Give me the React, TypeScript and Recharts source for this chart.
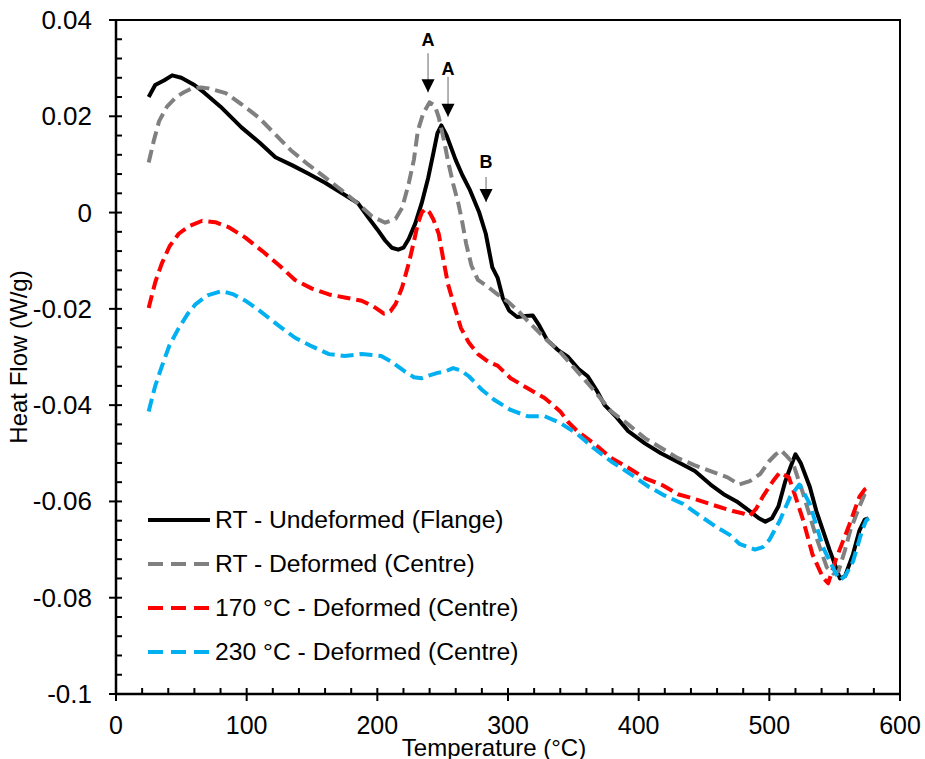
import React from 'react';
import {
  LineChart,
  Line,
  XAxis,
  YAxis,
  Legend,
  ReferenceDot,
  ReferenceLine,
} from 'recharts';

// [temperature °C, heat flow W/g]
const rtUndeformed: [number, number][] = [
  [25, 0.024], [30, 0.0265], [37, 0.0275], [43, 0.0285], [50, 0.028], [60, 0.0265], [68, 0.0248],
  [80, 0.022], [96, 0.0177], [110, 0.0145], [122, 0.0115], [135, 0.0098], [147, 0.0081], [160, 0.0062],
  [173, 0.004], [185, 0.002], [193, -0.001], [200, -0.0035], [206, -0.0058], [211, -0.0073],
  [216, -0.0077], [220, -0.0073], [224, -0.0055], [229, -0.0023], [234, 0.002], [239, 0.0073],
  [243, 0.0125], [246, 0.0165], [249, 0.0181], [253, 0.016], [260, 0.0109], [265, 0.0078],
  [271, 0.0046], [278, 0.0], [283, -0.0044], [288, -0.0114], [292, -0.0135], [296, -0.0177],
  [301, -0.0204], [307, -0.0217], [313, -0.0215], [319, -0.0214], [324, -0.0235], [330, -0.0265],
  [338, -0.0285], [346, -0.03], [354, -0.0325], [361, -0.034], [368, -0.037], [374, -0.04],
  [383, -0.0425], [392, -0.0454], [405, -0.048], [417, -0.05], [430, -0.0518], [443, -0.0537],
  [455, -0.0565], [465, -0.0585], [475, -0.06], [485, -0.062], [492, -0.0635], [497, -0.0642],
  [502, -0.0635], [507, -0.061], [512, -0.056], [516, -0.053], [520, -0.0502], [524, -0.052],
  [531, -0.057], [536, -0.062], [541, -0.066], [546, -0.07], [551, -0.0737], [554, -0.076],
  [558, -0.0755], [564, -0.071], [569, -0.066], [573, -0.0638], [576, -0.0635],
];

const rtDeformed: [number, number][] = [
  [25, 0.0104], [29, 0.015], [33, 0.019], [39, 0.022], [46, 0.024], [52, 0.025], [58, 0.0258],
  [65, 0.026], [71, 0.0258], [84, 0.0248], [96, 0.0225], [109, 0.0198], [121, 0.0165], [134, 0.0129],
  [147, 0.01], [160, 0.0073], [172, 0.0048], [185, 0.0019], [196, -0.0008], [206, -0.0021],
  [214, -0.0013], [219, 0.001], [224, 0.006], [228, 0.011], [231, 0.017], [235, 0.0205],
  [240, 0.0229], [244, 0.0222], [247, 0.0198], [251, 0.015], [254, 0.0108], [258, 0.006],
  [262, 0.0019], [265, -0.002], [268, -0.0065], [272, -0.011], [277, -0.014], [285, -0.0155],
  [292, -0.017], [300, -0.0185], [308, -0.0205], [315, -0.0225], [328, -0.026], [340, -0.029],
  [353, -0.033], [366, -0.037], [379, -0.0413], [392, -0.044], [405, -0.0469], [418, -0.049],
  [430, -0.051], [443, -0.0525], [455, -0.0537], [468, -0.055], [477, -0.0565], [485, -0.0558],
  [493, -0.0543], [500, -0.0516], [505, -0.0502], [509, -0.0494], [513, -0.0505], [518, -0.052],
  [526, -0.0585], [536, -0.0675], [544, -0.0737], [549, -0.075], [553, -0.0745], [558, -0.07],
  [562, -0.066], [569, -0.061], [573, -0.0585], [576, -0.0575],
];

const deformed170: [number, number][] = [
  [25, -0.0198], [30, -0.0145], [35, -0.0106], [41, -0.007], [48, -0.0044], [56, -0.0028],
  [66, -0.0017], [76, -0.002], [86, -0.003], [99, -0.0052], [112, -0.008], [125, -0.011],
  [137, -0.014], [150, -0.0158], [163, -0.017], [176, -0.0177], [188, -0.0183], [197, -0.0195],
  [205, -0.021], [210, -0.0205], [214, -0.019], [219, -0.0155], [224, -0.0106], [228, -0.006],
  [231, -0.0023], [234, 0.0], [237, 0.0008], [240, 0.0], [243, -0.0015], [247, -0.0044],
  [250, -0.009], [254, -0.0148], [259, -0.0195], [264, -0.024], [270, -0.027], [277, -0.0294],
  [285, -0.031], [292, -0.0318], [302, -0.0344], [315, -0.0365], [328, -0.0385], [340, -0.0413],
  [346, -0.0435], [353, -0.0454], [366, -0.048], [379, -0.051], [392, -0.053], [405, -0.0552],
  [418, -0.0566], [430, -0.0585], [443, -0.0595], [460, -0.061], [472, -0.062], [480, -0.0625],
  [485, -0.063], [490, -0.0615], [495, -0.059], [503, -0.0557], [508, -0.054], [515, -0.055],
  [520, -0.059], [526, -0.064], [533, -0.071], [541, -0.0758], [545, -0.077], [551, -0.072],
  [556, -0.0685], [561, -0.065], [569, -0.059], [573, -0.0575], [576, -0.057],
];

const deformed230: [number, number][] = [
  [25, -0.0413], [30, -0.036], [35, -0.032], [41, -0.0275], [48, -0.024], [55, -0.021],
  [61, -0.019], [70, -0.0172], [81, -0.0163], [90, -0.017], [99, -0.0183], [108, -0.02],
  [117, -0.0219], [127, -0.024], [137, -0.026], [150, -0.0278], [163, -0.0294], [175, -0.0298],
  [188, -0.0294], [196, -0.0296], [203, -0.0298], [211, -0.031], [221, -0.033], [228, -0.0342],
  [234, -0.0344], [240, -0.0338], [246, -0.0333], [252, -0.033], [258, -0.0323], [264, -0.0328],
  [270, -0.034], [280, -0.0368], [290, -0.039], [302, -0.041], [315, -0.0423], [328, -0.0423],
  [340, -0.0437], [353, -0.046], [366, -0.049], [379, -0.0517], [392, -0.054], [408, -0.057],
  [420, -0.0588], [434, -0.0605], [447, -0.063], [460, -0.0654], [470, -0.067], [477, -0.0688],
  [489, -0.07], [495, -0.0695], [500, -0.068], [504, -0.066], [508, -0.064], [516, -0.059],
  [523, -0.0565], [531, -0.0605], [541, -0.0695], [551, -0.075], [554, -0.0763], [558, -0.0755],
  [564, -0.0725], [571, -0.066], [574, -0.064], [576, -0.0635],
];

const seriesNames = [
  'RT - Undeformed (Flange)',
  'RT - Deformed (Centre)',
  '170 °C - Deformed (Centre)',
  '230 °C - Deformed (Centre)',
];

const xTicks = [0, 100, 200, 300, 400, 500, 600];
const yTicks = [-0.1, -0.08, -0.06, -0.04, -0.02, 0, 0.02, 0.04];
// minor ticks: every 20 °C and every 0.004 W/g
const xMinorTicks = Array.from({ length: 31 }, (_, i) => i * 20);
const yMinorTicks = Array.from({ length: 36 }, (_, i) => Math.round((-0.1 + i * 0.004) * 1000) / 1000);

// peak markers
const markerLabels = ['A', 'A', 'B'];
const markerT = [238.8, 254.1, 283.2];
const markerLabelY = [0.0358, 0.0298, 0.0105];
const markerShaftTop = [0.0331, 0.0282, 0.0074];
const markerTip = [0.025, 0.0199, 0.0022];

const FONT = '"Liberation Sans", Arial, Helvetica, sans-serif';
const W = 925;
const H = 759;
const MARGIN = { top: 20, right: 25, bottom: 5, left: 16 };
const Y_AXIS_W = 100;
const X_AXIS_H = 60;
const X_DOMAIN: [number, number] = [0, 600];
const Y_DOMAIN: [number, number] = [-0.1, 0.04];

// plot box implied by the margins and axis sizes above (same as Recharts lays it out)
const PLOT_L = MARGIN.left + Y_AXIS_W;
const PLOT_R = W - MARGIN.right;
const PLOT_T = MARGIN.top;
const PLOT_B = H - MARGIN.bottom - X_AXIS_H;
const sx = (t: number) => PLOT_L + ((t - X_DOMAIN[0]) / (X_DOMAIN[1] - X_DOMAIN[0])) * (PLOT_R - PLOT_L);
const sy = (v: number) => PLOT_B - ((v - Y_DOMAIN[0]) / (Y_DOMAIN[1] - Y_DOMAIN[0])) * (PLOT_B - PLOT_T);

const toRows = (pts: [number, number][]) => pts.map(([t, hf]) => ({ t, hf }));

const styles = [
  { color: '#000000', dash: undefined as string | undefined, legendDash: undefined as string | undefined },
  { color: '#808080', dash: '13 6', legendDash: '15 8' },
  { color: '#FF0000', dash: '13 6', legendDash: '15 8' },
  { color: '#00B0F0', dash: '13 6', legendDash: '15 8' },
];

const seriesData = [rtUndeformed, rtDeformed, deformed170, deformed230].map(toRows);

const isMajor = (list: number[], v: number) => list.some((m) => Math.abs(m - v) < 1e-9);

function XLabelTick(props: any) {
  const { x, y, payload } = props;
  return (
    <text x={x} y={y + 31} textAnchor="middle" dominantBaseline="central" fontSize={25} fontFamily={FONT} fill="#000">
      {payload.value}
    </text>
  );
}

function YLabelTick(props: any) {
  const { x, y, payload } = props;
  return (
    <text x={x - 24} y={y} textAnchor="end" dominantBaseline="central" fontSize={26} fontFamily={FONT} fill="#000">
      {String(payload.value)}
    </text>
  );
}

function LegendBox() {
  return (
    <div style={{ fontFamily: FONT, fontSize: 24.7, color: '#000' }}>
      {seriesNames.map((name, i) => (
        <div key={name} style={{ display: 'flex', alignItems: 'center', height: 44 }}>
          <svg width={62} height={8} style={{ marginRight: 5 }}>
            <line
              x1={0}
              y1={4}
              x2={62}
              y2={4}
              stroke={styles[i].color}
              strokeWidth={4}
              strokeDasharray={styles[i].legendDash}
            />
          </svg>
          <span style={{ whiteSpace: 'nowrap' }}>{name}</span>
        </div>
      ))}
    </div>
  );
}

// tick marks + top/right frame, laid over the chart
function AxisMarks() {
  return (
    <svg
      width={W}
      height={H}
      style={{ position: 'absolute', left: 0, top: 0, pointerEvents: 'none', zIndex: 5 }}
    >
      <g stroke="#000" strokeWidth={2} fill="none">
        <path d={`M${PLOT_L},${PLOT_T}H${PLOT_R}V${PLOT_B}`} />
        {xMinorTicks.map((t) => {
          const x = sx(t);
          return <path key={`x${t}`} d={`M${x},${PLOT_B - 6}V${isMajor(xTicks, t) ? PLOT_B + 7 : PLOT_B}`} />;
        })}
        {yMinorTicks.map((v) => {
          const y = sy(v);
          return <path key={`y${v}`} d={`M${isMajor(yTicks, v) ? PLOT_L - 7 : PLOT_L},${y}H${PLOT_L + 6}`} />;
        })}
      </g>
    </svg>
  );
}

export default function App() {
  return (
    <div style={{ position: 'absolute', left: 0, top: 0, width: W, height: H, background: '#fff', fontFamily: FONT }}>
      <LineChart width={W} height={H} margin={MARGIN}>
        <XAxis
          type="number"
          dataKey="t"
          domain={X_DOMAIN}
          ticks={xTicks}
          interval={0}
          height={X_AXIS_H}
          tickSize={0}
          tickMargin={0}
          axisLine={{ stroke: '#000', strokeWidth: 2.5 }}
          tickLine={false}
          tick={(p: any) => <XLabelTick {...p} />}
          label={(props: any) => {
            const vb = props.viewBox;
            return (
              <text
                x={vb.x + vb.width / 2 - 14}
                y={vb.y + 53}
                textAnchor="middle"
                dominantBaseline="central"
                fontSize={24}
                fontFamily={FONT}
                fill="#000"
              >
                Temperature (°C)
              </text>
            );
          }}
        />
        <YAxis
          type="number"
          domain={Y_DOMAIN}
          ticks={yTicks}
          interval={0}
          width={Y_AXIS_W}
          tickSize={0}
          tickMargin={0}
          axisLine={{ stroke: '#000', strokeWidth: 2.5 }}
          tickLine={false}
          tick={(p: any) => <YLabelTick {...p} />}
          label={(props: any) => {
            const vb = props.viewBox;
            const cx = vb.x + 2;
            const cy = vb.y + vb.height / 2;
            return (
              <text
                x={cx}
                y={cy}
                transform={`rotate(-90 ${cx} ${cy})`}
                textAnchor="middle"
                dominantBaseline="central"
                fontSize={24}
                fontFamily={FONT}
                fill="#000"
              >
                Heat Flow (W/g)
              </text>
            );
          }}
        />

        {seriesData.map((rows, i) => (
          <Line
            key={seriesNames[i]}
            data={rows}
            dataKey="hf"
            name={seriesNames[i]}
            type="linear"
            stroke={styles[i].color}
            strokeWidth={4}
            strokeDasharray={styles[i].dash}
            strokeLinejoin="round"
            dot={false}
            activeDot={false}
            isAnimationActive={false}
          />
        ))}

        {markerT.map((t, i) => (
          <ReferenceLine
            key={`shaft-${i}`}
            segment={[{ x: t, y: markerShaftTop[i] }, { x: t, y: markerTip[i] }]}
            stroke="#808080"
            strokeWidth={1.2}
          />
        ))}
        {markerT.map((t, i) => (
          <ReferenceDot
            key={`tip-${i}`}
            x={t}
            y={markerTip[i]}
            r={1}
            shape={(p: any) => (
              <path d={`M${p.cx - 6.5},${p.cy - 13} L${p.cx + 6.5},${p.cy - 13} L${p.cx},${p.cy} Z`} fill="#000" />
            )}
          />
        ))}
        {markerT.map((t, i) => (
          <ReferenceDot
            key={`lbl-${i}`}
            x={t}
            y={markerLabelY[i]}
            r={1}
            shape={(p: any) => (
              <text
                x={p.cx}
                y={p.cy}
                textAnchor="middle"
                dominantBaseline="central"
                fontSize={18}
                fontWeight="bold"
                fontFamily={FONT}
                fill="#000"
              >
                {markerLabels[i]}
              </text>
            )}
          />
        ))}

        <Legend
          layout="vertical"
          align="center"
          verticalAlign="middle"
          wrapperStyle={{ left: 148, top: 498, width: 420 }}
          content={() => <LegendBox />}
        />
      </LineChart>
      <AxisMarks />
    </div>
  );
}
